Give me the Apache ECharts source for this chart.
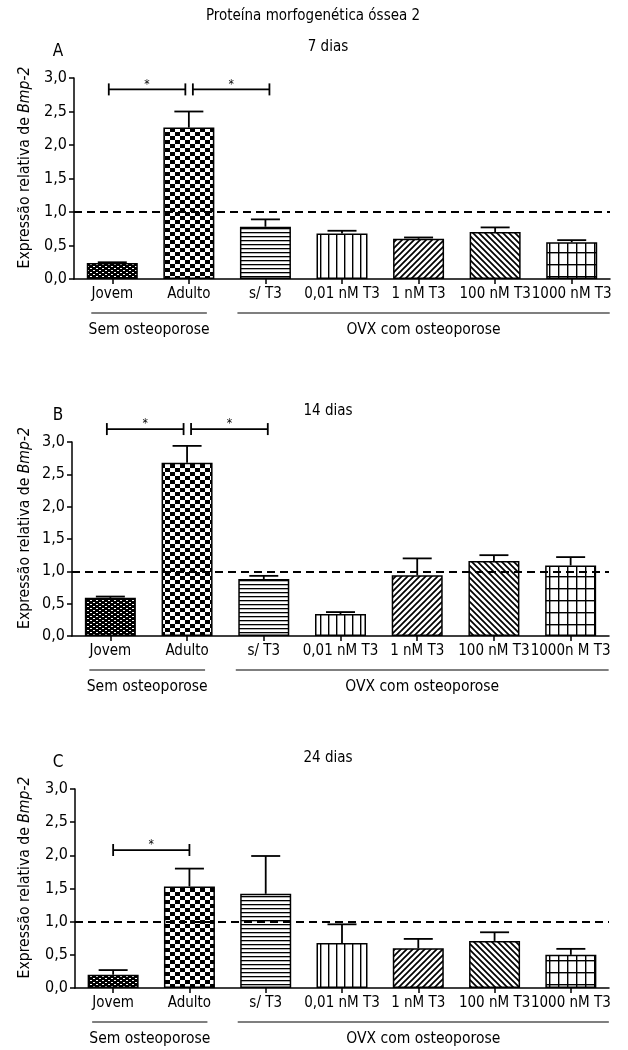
<!DOCTYPE html>
<html><head><meta charset="utf-8">
<script src="https://cdn.jsdelivr.net/npm/echarts@6/dist/echarts.min.js"></script>
<style>html,body{margin:0;padding:0;background:#fff}#c{width:628px;height:1050px}</style>
</head><body><div id="c"></div>
<script>
// ---------- DATA ----------
const mainTitle = 'Proteína morfogenética óssea 2';
const panelLetters = ['A', 'B', 'C'];
const panelTitles = ['7 dias', '14 dias', '24 dias'];
const yAxisTitle = 'Expressão relativa de ';
const yAxisTitleItalic = 'Bmp-2';
const groupLabels = ['Sem osteoporose', 'OVX com osteoporose'];
const categoriesA = ['Jovem', 'Adulto', 's/ T3', '0,01 nM T3', '1 nM T3', '100 nM T3', '1000 nM T3'];
const categoriesB = ['Jovem', 'Adulto', 's/ T3', '0,01 nM T3', '1 nM T3', '100 nM T3', '1000n M T3'];
const categoriesC = ['Jovem', 'Adulto', 's/ T3', '0,01 nM T3', '1 nM T3', '100 nM T3', '1000 nM T3'];
// bar means and upper end of the error bar (mean + SEM)
const meanA = [0.24, 2.26, 0.78, 0.68, 0.60, 0.70, 0.55];
const errTopA = [0.25, 2.50, 0.89, 0.72, 0.62, 0.77, 0.58];
const meanB = [0.59, 2.68, 0.88, 0.34, 0.94, 1.16, 1.09];
const errTopB = [0.61, 2.94, 0.93, 0.37, 1.20, 1.25, 1.22];
const meanC = [0.20, 1.53, 1.42, 0.68, 0.60, 0.71, 0.50];
const errTopC = [0.27, 1.80, 1.99, 0.96, 0.74, 0.84, 0.59];
const yMin = 0, yMax = 3, yStep = 0.5;
const referenceValue = 1.0;
// significance brackets: [fromCategory, toCategory, level]
const bracketsA = [[0, 1, 2.83], [1, 2, 2.83]];
const bracketsB = [[0, 1, 3.20], [1, 2, 3.20]];
const bracketsC = [[0, 1, 2.08]];
const significanceMark = '*';

// ---------- STYLE ----------
const FONT = '"Liberation Sans Narrow","Arial Narrow","DejaVu Sans Condensed",sans-serif';
const INK = '#000';

function makePattern(kind) {
  const c = document.createElement('canvas');
  let w = 6, h = 6;
  if (kind === 'fine') { w = 6; h = 4; }
  if (kind === 'check') { w = 10; h = 8; }
  if (kind === 'h') { w = 4; h = 4; }
  if (kind === 'v') { w = 8; h = 4; }
  if (kind === 'grid') { w = 9; h = 12; }
  c.width = w; c.height = h;
  const ctx = c.getContext('2d');
  ctx.fillStyle = '#fff'; ctx.fillRect(0, 0, w, h);
  ctx.fillStyle = INK; ctx.strokeStyle = INK;
  if (kind === 'fine') {
    ctx.fillRect(0, 0, w, h);
    ctx.fillStyle = '#fff';
    ctx.fillRect(0, 0, 2, 1); ctx.fillRect(3, 2, 2, 1);
  } else if (kind === 'check') {
    ctx.fillRect(0, 0, 5, 4); ctx.fillRect(5, 4, 5, 4);
  } else if (kind === 'h') {
    ctx.fillRect(0, 0, w, 1.3);
  } else if (kind === 'v') {
    ctx.fillRect(0, 0, 1.4, h);
  } else if (kind === 'grid') {
    ctx.fillRect(0, 0, 1.4, h); ctx.fillRect(0, 0, w, 1.4);
  } else if (kind === 'fwd' || kind === 'back') {
    ctx.lineWidth = 1.7;
    ctx.beginPath();
    if (kind === 'fwd') {
      ctx.moveTo(-1, 7); ctx.lineTo(7, -1);
      ctx.moveTo(-1, 1); ctx.lineTo(1, -1);
      ctx.moveTo(5, 7); ctx.lineTo(7, 5);
    } else {
      ctx.moveTo(-1, -1); ctx.lineTo(7, 7);
      ctx.moveTo(-1, 5); ctx.lineTo(1, 7);
      ctx.moveTo(5, -1); ctx.lineTo(7, 1);
    }
    ctx.stroke();
  }
  return { image: c, repeat: 'repeat' };
}
const patternKinds = ['fine', 'check', 'h', 'v', 'fwd', 'back', 'grid'];
const patterns = patternKinds.map(makePattern);

const grids = [
  { left: 74, top: 78, width: 536, height: 201 },
  { left: 72, top: 442, width: 537, height: 194 },
  { left: 75, top: 789, width: 534, height: 199 }
];
const panels = [
  { cats: categoriesA, mean: meanA, err: errTopA, br: bracketsA },
  { cats: categoriesB, mean: meanB, err: errTopB, br: bracketsB },
  { cats: categoriesC, mean: meanC, err: errTopC, br: bracketsC }
];

const chart = echarts.init(document.getElementById('c'), null, { renderer: 'canvas' });

const xAxes = [], yAxes = [], series = [];
panels.forEach((p, k) => {
  xAxes.push({
    type: 'category', gridIndex: k, data: p.cats,
    axisLine: { show: true, lineStyle: { color: INK, width: 1.5 } },
    axisTick: { show: true, alignWithLabel: true, length: 5, lineStyle: { color: INK, width: 1.5 } },
    axisLabel: { interval: 0, fontSize: 15, fontFamily: FONT, color: INK, margin: 8, hideOverlap: false },
    splitLine: { show: false }
  });
  yAxes.push({
    type: 'value', gridIndex: k, min: yMin, max: yMax, interval: yStep,
    axisLine: { show: true, lineStyle: { color: INK, width: 1.5 } },
    axisTick: { show: true, length: 5, lineStyle: { color: INK, width: 1.5 } },
    axisLabel: { fontSize: 16, fontFamily: FONT, color: INK, margin: 7,
      formatter: v => v.toFixed(1).replace('.', ',') },
    splitLine: { show: false }
  });
  series.push({
    type: 'bar', xAxisIndex: k, yAxisIndex: k, barWidth: 51, z: 2,
    itemStyle: { borderColor: INK, borderWidth: 1.5 },
    data: p.mean.map((v, i) => ({ value: v, itemStyle: { color: patterns[i] } })),
    markLine: {
      silent: true, symbol: ['none', 'none'], label: { show: false },
      lineStyle: { color: INK, width: 2, type: [8, 5] },
      data: [{ yAxis: referenceValue }], z: 5
    }
  });
  series.push({
    type: 'custom', xAxisIndex: k, yAxisIndex: k, z: 4,
    encode: { x: 0, y: [1, 2] },
    data: p.mean.map((v, i) => [i, v, p.err[i]]),
    renderItem: (params, api) => {
      const b = api.coord([api.value(0), api.value(1)]);
      const t = api.coord([api.value(0), api.value(2)]);
      const st = { stroke: INK, lineWidth: 1.8 };
      return { type: 'group', children: [
        { type: 'line', shape: { x1: b[0], y1: b[1], x2: t[0], y2: t[1] }, style: st },
        { type: 'line', shape: { x1: t[0] - 14.5, y1: t[1], x2: t[0] + 14.5, y2: t[1] }, style: st }
      ] };
    }
  });
});

chart.setOption({
  animation: false,
  backgroundColor: '#fff',
  grid: grids,
  xAxis: xAxes,
  yAxis: yAxes,
  series: series
});

// ---------- ANNOTATIONS ----------
const g = [];
function txt(x, y, text, size, extra) {
  g.push(Object.assign({ type: 'text', x: x, y: y, silent: true, z: 10,
    style: { text: text, fontSize: size, fontFamily: FONT, fill: INK, align: 'center', verticalAlign: 'middle' } }, extra || {}));
}
function seg(x1, y1, x2, y2, w) {
  g.push({ type: 'line', silent: true, z: 10, shape: { x1, y1, x2, y2 }, style: { stroke: INK, lineWidth: w || 1.5 } });
}
txt(313, 16, mainTitle, 15);
panels.forEach((p, k) => {
  const gr = grids[k];
  const px = i => chart.convertToPixel({ xAxisIndex: k }, i);
  const py = v => chart.convertToPixel({ yAxisIndex: k }, v);
  const axisY = gr.top + gr.height;
  txt(58, gr.top - 26, panelLetters[k], 17);
  txt(328, gr.top - 31, panelTitles[k], 15);
  // y axis title (rotated, with italic gene name)
  g.push({ type: 'text', x: 25, y: gr.top + gr.height / 2 - 11, rotation: Math.PI / 2, silent: true, z: 10,
    style: { text: '{n|' + yAxisTitle + '}{i|' + yAxisTitleItalic + '}', align: 'center', verticalAlign: 'middle',
      rich: { n: { fontSize: 15.6, fontFamily: FONT, fill: INK }, i: { fontSize: 15.6, fontFamily: FONT, fontStyle: 'italic', fill: INK } } } });
  // group underlines and labels
  const lineY = axisY + 34, labY = axisY + 51;
  const g1a = px(0) - 21, g1b = px(1) + 18;
  const g2a = px(2) - 28, g2b = px(p.cats.length - 1) + 38;
  seg(g1a, lineY, g1b, lineY, 1.2);
  seg(g2a, lineY, g2b, lineY, 1.2);
  txt((g1a + g1b) / 2, labY, groupLabels[0], 15.5);
  txt((g2a + g2b) / 2, labY, groupLabels[1], 15.5);
  // significance brackets
  p.br.forEach(b => {
    const shared = p.br.length > 1;
    let x1 = px(b[0]), x2 = px(b[1]);
    if (shared && b[0] === 1) x1 += 4;
    if (shared && b[1] === 1) x2 -= 3.5;
    if (shared) { if (b[0] === 0) x1 -= 3.5; if (b[1] === 2) x2 += 4; }
    const y = py(b[2]);
    seg(x1, y, x2, y, 1.8);
    seg(x1, y - 6, x1, y + 6, 1.8);
    seg(x2, y - 6, x2, y + 6, 1.8);
    txt((x1 + x2) / 2, y - 5, significanceMark, 12);
  });
});
chart.setOption({ graphic: { elements: g } });
</script></body></html>
